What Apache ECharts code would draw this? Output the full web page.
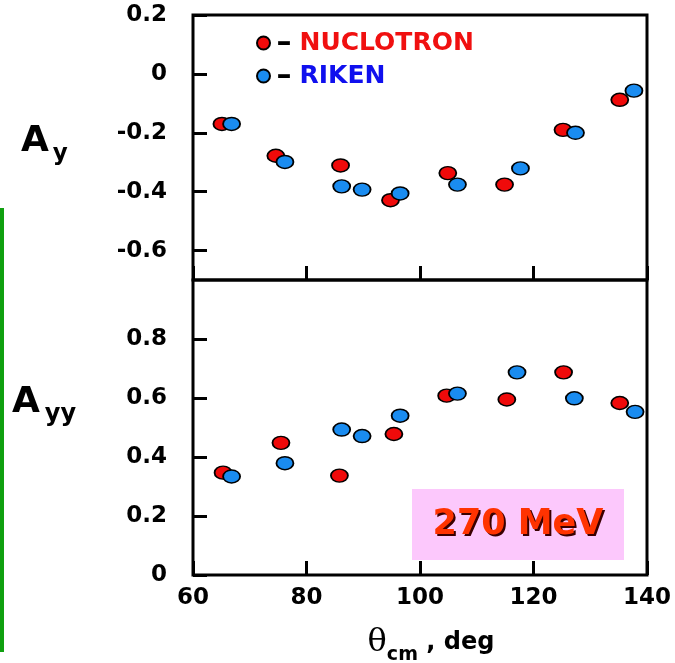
<!DOCTYPE html>
<html>
<head>
<meta charset="utf-8">
<script src="https://cdn.jsdelivr.net/npm/echarts@6/dist/echarts.min.js"></script>
<style>html,body{margin:0;padding:0;background:#fff}#c{width:675px;height:663px}</style>
</head>
<body>
<div id="c"></div>
<script>
// ---- data ----
const thetaNuclotronAy = [65.1, 74.6, 86.0, 94.8, 104.9, 114.9, 125.2, 135.2];
const ayNuclotron      = [-0.170, -0.278, -0.311, -0.429, -0.337, -0.376, -0.190, -0.088];
const thetaRikenAy     = [66.8, 76.2, 86.2, 89.8, 96.5, 106.6, 117.7, 127.4, 137.7];
const ayRiken          = [-0.170, -0.299, -0.382, -0.393, -0.406, -0.376, -0.321, -0.200, -0.057];
const thetaNuclotronAyy = [65.3, 75.5, 85.8, 95.4, 104.7, 115.3, 125.3, 135.2];
const ayyNuclotron      = [0.347, 0.448, 0.337, 0.478, 0.608, 0.595, 0.687, 0.583];
const thetaRikenAyy     = [66.8, 76.2, 86.2, 89.8, 96.5, 106.6, 117.1, 127.2, 137.9];
const ayyRiken          = [0.334, 0.379, 0.493, 0.471, 0.540, 0.615, 0.687, 0.599, 0.553];
const xTicks   = [60, 80, 100, 120, 140];
const ayTicks  = [-0.6, -0.4, -0.2, 0, 0.2];
const ayyTicks = [0, 0.2, 0.4, 0.6, 0.8];
const seriesNames = ['NUCLOTRON', 'RIKEN'];
const energyLabel = '270 MeV';

const pairs = (xs, ys) => xs.map((x, i) => [x, ys[i]]);
const ELL = 'path://M0,1A1,1 0 1,1 2,1A1,1 0 1,1 0,1Z';
const RED = '#f00a0a', BLUE = '#1a8cf0';
const FONT = 'DejaVu Sans';
const tickStyle = {show: true, inside: true, length: 14, lineStyle: {color: '#000', width: 3}};
const labelStyle = {color: '#000', fontFamily: FONT, fontWeight: 'bold', fontSize: 23};

const chart = echarts.init(document.getElementById('c'), null, {renderer: 'canvas'});
chart.setOption({
  animation: false,
  backgroundColor: '#fff',
  grid: [
    {left: 193, right: 28, top: 15, height: 265, outerBoundsMode: 'none', containLabel: false,
     show: true, borderColor: '#000', borderWidth: 3, backgroundColor: 'transparent'},
    {left: 193, right: 28, top: 280, height: 295, outerBoundsMode: 'none', containLabel: false,
     show: true, borderColor: '#000', borderWidth: 3, backgroundColor: 'transparent'}
  ],
  legend: {
    orient: 'vertical', left: 251, top: 23, itemWidth: 16, itemHeight: 13, itemGap: 3, itemTextGap: 8,
    data: [{name: seriesNames[0], icon: ELL}, {name: seriesNames[1], icon: ELL}],
    formatter: n => '{d|–}{' + (n === seriesNames[0] ? 'r' : 'b') + '|' + n + '}',
    textStyle: {
      rich: {
        d: {color: '#000', fontFamily: FONT, fontWeight: 'bold', fontSize: 30, lineHeight: 28, padding: [0, 8, 0, 0]},
        r: {color: '#f01010', fontFamily: FONT, fontWeight: 'bold', fontSize: 25, lineHeight: 28},
        b: {color: '#1010ee', fontFamily: FONT, fontWeight: 'bold', fontSize: 25, lineHeight: 28}
      }
    }
  },
  xAxis: [
    {gridIndex: 0, type: 'value', min: 60, max: 140, axisLine: {show: false, onZero: false}, splitLine: {show: false},
     axisTick: Object.assign({customValues: xTicks}, tickStyle), axisLabel: {show: false}},
    {gridIndex: 1, type: 'value', min: 60, max: 140, axisLine: {show: false, onZero: false}, splitLine: {show: false},
     axisTick: Object.assign({customValues: xTicks}, tickStyle),
     axisLabel: Object.assign({customValues: xTicks, margin: 12}, labelStyle),
     name: '{t|θ}{c|cm}{r| , deg}', nameLocation: 'middle', nameGap: 52,
     nameTextStyle: {padding: [0, 0, 0, 22], rich: {
       t: {fontFamily: 'DejaVu Serif', fontSize: 32, color: '#000', lineHeight: 32},
       c: {fontFamily: FONT, fontWeight: 'bold', fontSize: 19, color: '#000', verticalAlign: 'bottom', lineHeight: 18, padding: [0, 0, -6, 0]},
       r: {fontFamily: FONT, fontWeight: 'bold', fontSize: 24, color: '#000', lineHeight: 32}
     }}}
  ],
  yAxis: [
    {gridIndex: 0, type: 'value', min: -0.7, max: 0.2, axisLine: {show: false, onZero: false}, splitLine: {show: false},
     axisTick: Object.assign({customValues: ayTicks}, tickStyle),
     axisLabel: Object.assign({customValues: ayTicks, margin: 26}, labelStyle)},
    {gridIndex: 1, type: 'value', min: 0, max: 1.0, axisLine: {show: false, onZero: false}, splitLine: {show: false},
     axisTick: Object.assign({customValues: ayyTicks}, tickStyle),
     axisLabel: Object.assign({customValues: ayyTicks, margin: 26}, labelStyle)}
  ],
  series: [
    {name: seriesNames[0], type: 'scatter', xAxisIndex: 0, yAxisIndex: 0, symbol: ELL, symbolSize: [17, 13],
     itemStyle: {color: RED, borderColor: '#000', borderWidth: 1.6, opacity: 1}, data: pairs(thetaNuclotronAy, ayNuclotron)},
    {name: seriesNames[1], type: 'scatter', xAxisIndex: 0, yAxisIndex: 0, symbol: ELL, symbolSize: [17, 13],
     itemStyle: {color: BLUE, borderColor: '#000', borderWidth: 1.6, opacity: 1}, data: pairs(thetaRikenAy, ayRiken)},
    {name: seriesNames[0], type: 'scatter', xAxisIndex: 1, yAxisIndex: 1, symbol: ELL, symbolSize: [17, 13],
     itemStyle: {color: RED, borderColor: '#000', borderWidth: 1.6, opacity: 1}, data: pairs(thetaNuclotronAyy, ayyNuclotron)},
    {name: seriesNames[1], type: 'scatter', xAxisIndex: 1, yAxisIndex: 1, symbol: ELL, symbolSize: [17, 13],
     itemStyle: {color: BLUE, borderColor: '#000', borderWidth: 1.6, opacity: 1}, data: pairs(thetaRikenAyy, ayyRiken)}
  ],
  graphic: [
    {type: 'line', shape: {x1: 2, y1: 208, x2: 2, y2: 652}, style: {stroke: '#10a010', lineWidth: 4}},
    {type: 'text', left: 21, top: 124, style: {
      text: '{a|A}{s|y}', rich: {
        a: {fontFamily: FONT, fontWeight: 'bold', fontSize: 36, fill: '#000', lineHeight: 36},
        s: {fontFamily: FONT, fontWeight: 'bold', fontSize: 23, fill: '#000', verticalAlign: 'bottom', lineHeight: 20, padding: [0, 0, -6, 4]}
      }}},
    {type: 'text', left: 12, top: 385, style: {
      text: '{a|A}{s|yy}', rich: {
        a: {fontFamily: FONT, fontWeight: 'bold', fontSize: 36, fill: '#000', lineHeight: 36},
        s: {fontFamily: FONT, fontWeight: 'bold', fontSize: 24, fill: '#000', verticalAlign: 'bottom', lineHeight: 20, padding: [0, 0, -6, 5]}
      }}},
    {type: 'rect', shape: {x: 412, y: 489, width: 212, height: 71}, style: {fill: '#fcc8fc'}, z: 10},
    {type: 'text', x: 518, y: 525, z: 11, style: {
      text: energyLabel, fontFamily: FONT, fontWeight: 'bold', fontSize: 35, fill: '#ff3300',
      align: 'center', verticalAlign: 'middle',
      textShadowColor: '#3a0000', textShadowOffsetX: 2, textShadowOffsetY: 2, textShadowBlur: 0.5}}
  ]
});
</script>
</body>
</html>
